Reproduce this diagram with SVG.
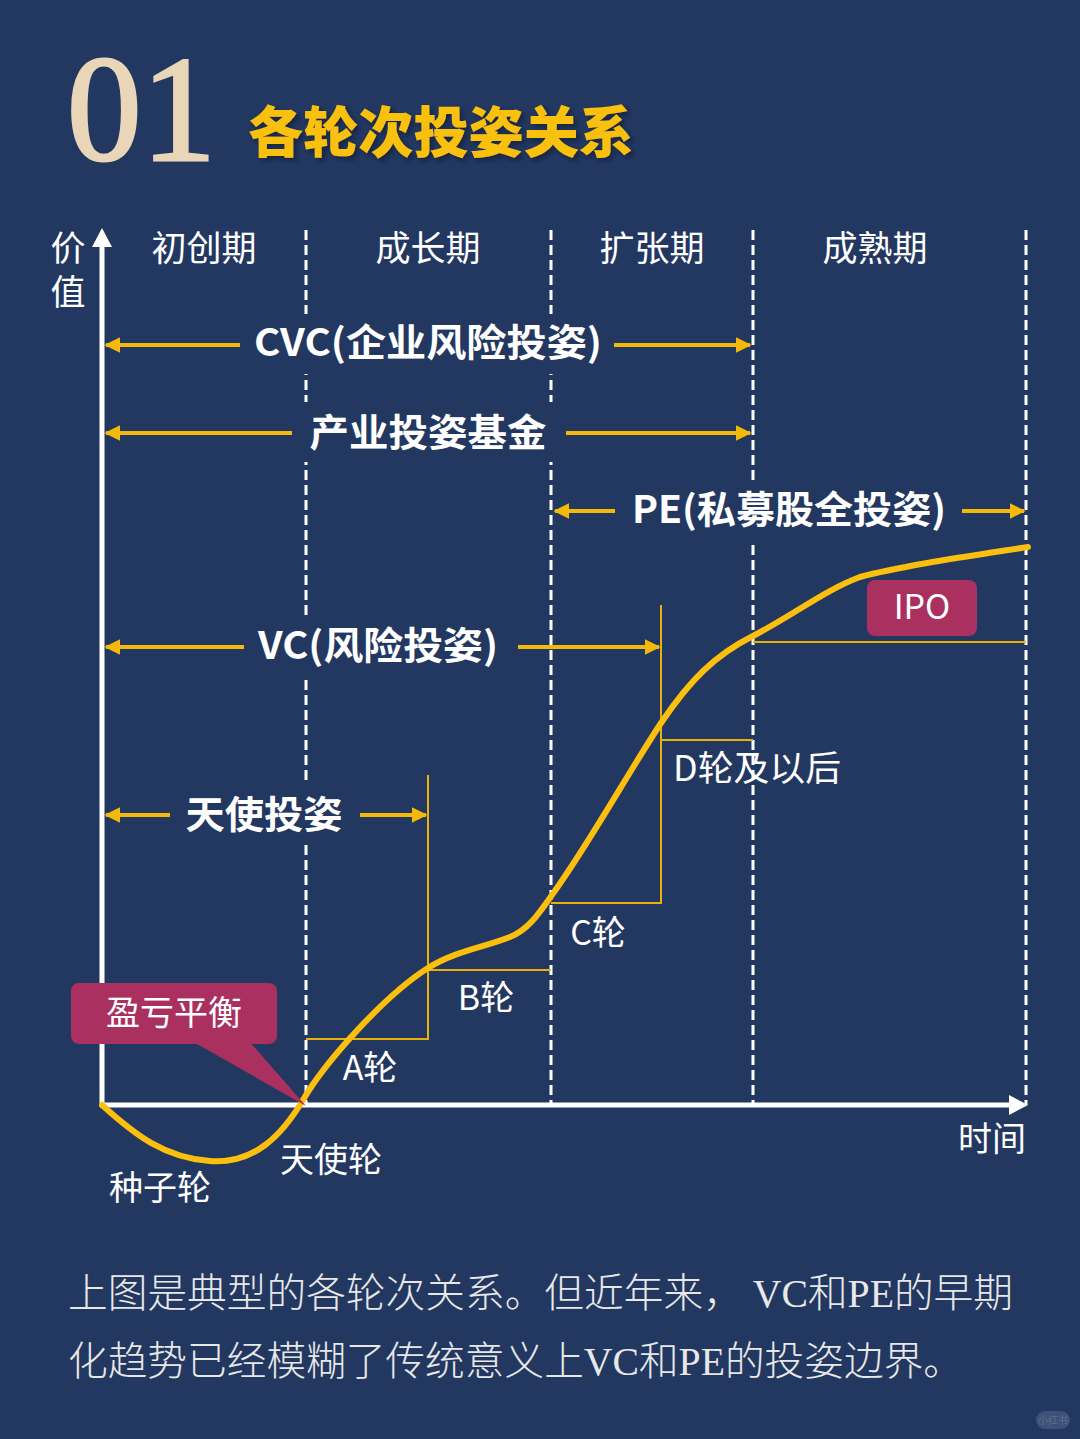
<svg xmlns="http://www.w3.org/2000/svg" width="1080" height="1439" viewBox="0 0 1080 1439">
  <defs>
    <style>
      .lane { font-family: "Noto Sans CJK SC", "Noto Sans", sans-serif; font-size: 35px; fill: #ffffff; }
      .lbl { font-family: "Noto Sans CJK SC", "Noto Sans", sans-serif; font-size: 34px; fill: #ffffff; }
      .big { font-family: "Noto Sans CJK SC", "Noto Sans", sans-serif; font-size: 38px; font-weight: 700; fill: #ffffff; }
      .dash { stroke: #ffffff; stroke-width: 3; stroke-dasharray: 10 5; fill: none; }
      .arr { stroke: #F5B90A; stroke-width: 4; fill: none; }
      .step { stroke: #E8B20C; stroke-width: 2; fill: none; }
      .cover { fill: #233861; }
      .body { font-family: "Liberation Serif", "Noto Sans CJK SC", serif; font-size: 40px; font-weight: 300; fill: #E8E8E8; }
    </style>
    <marker id="ah" viewBox="0 0 10 10" refX="9" refY="5" markerWidth="4" markerHeight="4" orient="auto-start-reverse" markerUnits="strokeWidth">
      <path d="M0,0 L10,5 L0,10 z" fill="#F5B90A"/>
    </marker>
    <filter id="sh" x="-5%" y="-20%" width="110%" height="140%">
      <feDropShadow dx="3" dy="3" stdDeviation="2" flood-color="#0d1a33" flood-opacity="0.7"/>
    </filter>
  </defs>

  <rect x="0" y="0" width="1080" height="1439" fill="#233861"/>

  <g id="title">
    <text x="67" y="160" font-family="Liberation Serif, serif" font-size="150" fill="#E9D6B8" stroke="#E9D6B8" stroke-width="3" textLength="149" lengthAdjust="spacingAndGlyphs">01</text>
    <text x="248" y="152" font-family="Noto Sans CJK SC, sans-serif" font-size="55" font-weight="900" fill="#F9C10B" filter="url(#sh)" textLength="386" lengthAdjust="spacingAndGlyphs">各轮次投姿关系</text>
  </g>

  <!-- dashed phase separators -->
  <g id="separators">
    <line class="dash" x1="306" y1="230" x2="306" y2="1105"/>
    <line class="dash" x1="551" y1="230" x2="551" y2="1105"/>
    <line class="dash" x1="753" y1="230" x2="753" y2="1105"/>
    <line class="dash" x1="1026" y1="230" x2="1026" y2="1105"/>
  </g>

  <!-- axes -->
  <g id="axes">
    <line x1="102" y1="1107" x2="102" y2="244" stroke="#ffffff" stroke-width="5"/>
    <path d="M92,247 L102,228 L112,247 z" fill="#ffffff"/>
    <line x1="100" y1="1105" x2="1012" y2="1105" stroke="#ffffff" stroke-width="5"/>
    <path d="M1009,1095 L1028,1105 L1009,1115 z" fill="#ffffff"/>
    <text class="lane" text-anchor="middle"><tspan x="68" y="261">价</tspan><tspan x="68" y="305">值</tspan></text>
    <text class="lbl" x="992" y="1151" text-anchor="middle">时间</text>
  </g>

  <g id="phases">
    <text class="lane" x="204" y="261" text-anchor="middle">初创期</text>
    <text class="lane" x="428" y="261" text-anchor="middle">成长期</text>
    <text class="lane" x="652" y="261" text-anchor="middle">扩张期</text>
    <text class="lane" x="875" y="261" text-anchor="middle">成熟期</text>
  </g>

  <!-- step lines and investor arrows -->
  <g id="connectors">
    <polyline class="step" points="306,1039 428,1039 428,775"/>
    <line class="step" x1="428" y1="970" x2="551" y2="970"/>
    <polyline class="step" points="551,903 661,903 661,605"/>
    <line class="step" x1="661" y1="740" x2="753" y2="740"/>
    <line class="step" x1="753" y1="642" x2="1026" y2="642"/>

    <line class="arr" x1="240" y1="345" x2="106" y2="345" marker-end="url(#ah)"/>
    <line class="arr" x1="614" y1="345" x2="750" y2="345" marker-end="url(#ah)"/>
    <line class="arr" x1="292" y1="433" x2="106" y2="433" marker-end="url(#ah)"/>
    <line class="arr" x1="566" y1="433" x2="750" y2="433" marker-end="url(#ah)"/>
    <line class="arr" x1="615" y1="511" x2="555" y2="511" marker-end="url(#ah)"/>
    <line class="arr" x1="962" y1="511" x2="1024" y2="511" marker-end="url(#ah)"/>
    <line class="arr" x1="244" y1="647" x2="106" y2="647" marker-end="url(#ah)"/>
    <line class="arr" x1="518" y1="647" x2="659" y2="647" marker-end="url(#ah)"/>
    <line class="arr" x1="170" y1="815" x2="106" y2="815" marker-end="url(#ah)"/>
    <line class="arr" x1="360" y1="815" x2="426" y2="815" marker-end="url(#ah)"/>
  </g>

  <!-- investor labels -->
  <g id="label-cvc">
    <rect class="cover" x="244" y="314" width="366" height="60"/>
    <text class="big" x="428" y="356" text-anchor="middle" textLength="348" lengthAdjust="spacingAndGlyphs">CVC(企业风险投姿)</text>
  </g>
  <g id="label-industry">
    <rect class="cover" x="298" y="402" width="262" height="60"/>
    <text class="big" x="428" y="446" text-anchor="middle" textLength="237" lengthAdjust="spacingAndGlyphs">产业投姿基金</text>
  </g>
  <g id="label-pe">
    <rect class="cover" x="622" y="480" width="334" height="60"/>
    <text class="big" x="789" y="523" text-anchor="middle" textLength="314" lengthAdjust="spacingAndGlyphs">PE(私募股全投姿)</text>
  </g>
  <g id="label-vc">
    <rect class="cover" x="250" y="616" width="258" height="60"/>
    <text class="big" x="378" y="659" text-anchor="middle" textLength="240" lengthAdjust="spacingAndGlyphs">VC(风险投姿)</text>
  </g>
  <g id="label-angel">
    <rect class="cover" x="178" y="784" width="174" height="60"/>
    <text class="big" x="264" y="828" text-anchor="middle" textLength="157" lengthAdjust="spacingAndGlyphs">天使投姿</text>
  </g>

  <!-- round labels -->
  <g id="rounds">
    <text class="lbl" x="370" y="1080" text-anchor="middle">A轮</text>
    <text class="lbl" x="486" y="1010" text-anchor="middle">B轮</text>
    <text class="lbl" x="598" y="945" text-anchor="middle">C轮</text>
    <text class="lbl" x="673" y="781" style="font-size:35px" textLength="168" lengthAdjust="spacingAndGlyphs">D轮及以后</text>
    <text class="lbl" x="160" y="1200" text-anchor="middle">种子轮</text>
    <text class="lbl" x="331" y="1172" text-anchor="middle">天使轮</text>
  </g>

  <!-- value curve -->
  <g id="curve">
    <path d="M102,1105 C135,1135 165,1158 210,1161 C255,1164 282,1135 303,1100 C325,1062 385,995 428,968 C455,951 485,947 510,937 C530,929 541,910 552,895 C590,842 625,778 661,723 C690,680 715,655 753,636 C795,614 825,590 860,577 C900,566 970,556 1028,547" fill="none" stroke="#FDBF0D" stroke-width="6" stroke-linecap="round"/>
  </g>

  <g id="ipo">
    <rect x="867" y="580" width="110" height="56" rx="8" fill="#A9305F"/>
    <text class="lbl" x="922" y="619" text-anchor="middle">IPO</text>
  </g>

  <g id="breakeven">
    <path d="M190,1040 L248,1040 L306,1106 z" fill="#A9305F"/>
    <rect x="71" y="983" width="206" height="61" rx="8" fill="#A9305F"/>
    <text class="lbl" x="174" y="1025" text-anchor="middle">盈亏平衡</text>
  </g>

  <g id="caption">
    <text class="body" x="68" y="1307" textLength="945" lengthAdjust="spacingAndGlyphs">上图是典型的各轮次关系。但近年来， VC和PE的早期</text>
    <text class="body" x="68" y="1375" textLength="895" lengthAdjust="spacingAndGlyphs">化趋势已经模糊了传统意义上VC和PE的投姿边界。</text>
  </g>

  <g id="watermark" opacity="0.25">
    <rect x="1036" y="1411" width="34" height="18" rx="9" fill="#8fa0c0"/>
    <text x="1053" y="1424" text-anchor="middle" font-family="Noto Sans CJK SC, sans-serif" font-size="10" fill="#ffffff">小红书</text>
  </g>
</svg>
